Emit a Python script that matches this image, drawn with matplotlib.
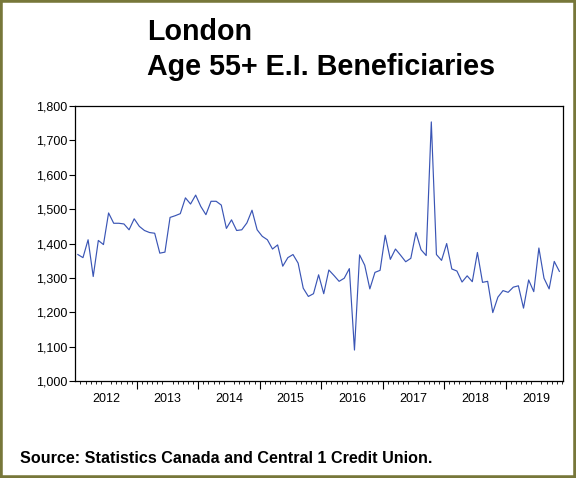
import matplotlib
matplotlib.use("Agg")
from matplotlib import pyplot as plt
from matplotlib.ticker import FuncFormatter
import pandas as pd

plt.rcParams['font.family'] = ['Liberation Sans', 'DejaVu Sans']

# monthly observations, Jan 2012 - Nov 2019
months = pd.period_range('2012-01', '2019-11', freq='M')
beneficiaries = [
    1368, 1359, 1411, 1304, 1409, 1397, 1489, 1459, 1459, 1457, 1440, 1472,  # 2012
    1450, 1438, 1432, 1430, 1372, 1375, 1476, 1481, 1487, 1533, 1515, 1541,  # 2013
    1508, 1484, 1523, 1523, 1512, 1444, 1469, 1438, 1440, 1460, 1497, 1440,  # 2014
    1421, 1411, 1384, 1396, 1334, 1359, 1368, 1343, 1270, 1246, 1254, 1309,  # 2015
    1254, 1323, 1307, 1290, 1299, 1327, 1090, 1367, 1337, 1268, 1316, 1322,  # 2016
    1424, 1354, 1384, 1366, 1347, 1357, 1432, 1382, 1365, 1754, 1368, 1351,  # 2017
    1400, 1326, 1320, 1288, 1306, 1289, 1374, 1287, 1290, 1199, 1244, 1263,  # 2018
    1258, 1273, 1277, 1212, 1294, 1260, 1387, 1299, 1268, 1348, 1319,        # 2019
]
years = list(range(2012, 2020))
title_lines = ["London", "Age 55+ E.I. Beneficiaries"]
source = "Source: Statistics Canada and Central 1 Credit Union."

# decimal year at the middle of each month
x = [m.year + (m.month - 0.5) / 12 for m in months]

fig = plt.figure(figsize=(5.76, 4.78), dpi=100)
ax = fig.add_axes([0.1307, 0.203, 0.977 - 0.1307, 0.778 - 0.203])

ax.plot(x, beneficiaries, color='#3a55b5', lw=0.85)

ax.set_xlim(2012.0, 2019.93)
ax.set_ylim(1000, 1800)
ax.set_yticks(range(1000, 1801, 100))
ax.yaxis.set_major_formatter(FuncFormatter(lambda v, p: f"{int(v):,}"))
ax.tick_params(axis='y', direction='out', length=4, width=0.8, labelsize=9, pad=2)

# year labels in the middle of each year, monthly minor ticks
ax.set_xticks([y + 0.5 for y in years], [str(y) for y in years])
ax.set_xticks([2012 + k / 12 for k in range(1, 96)], minor=True)
ax.tick_params(axis='x', which='major', length=0, labelsize=9, pad=9)
ax.tick_params(axis='x', which='minor', direction='out', length=2.5, width=0.6)

# longer ticks at year boundaries
sec = ax.secondary_xaxis('bottom')
sec.set_xticks(years[1:] + [2020])
sec.tick_params(axis='x', length=6, width=0.8, labelbottom=False)
sec.spines['bottom'].set_visible(False)

for s in ax.spines.values():
    s.set_linewidth(0.9)

fig.text(0.255, 0.917, title_lines[0], fontsize=20.6, fontweight='bold', va='baseline')
fig.text(0.255, 0.843, title_lines[1], fontsize=20.6, fontweight='bold', va='baseline')
fig.text(0.035, 0.032, source, fontsize=11.6, fontweight='bold', va='baseline')

# olive frame round the picture
fig.add_artist(plt.Rectangle((0, 0), 1, 1, transform=fig.transFigure,
                             fill=False, ec='#77773a', lw=4))

fig.savefig("out.png", dpi=100)
